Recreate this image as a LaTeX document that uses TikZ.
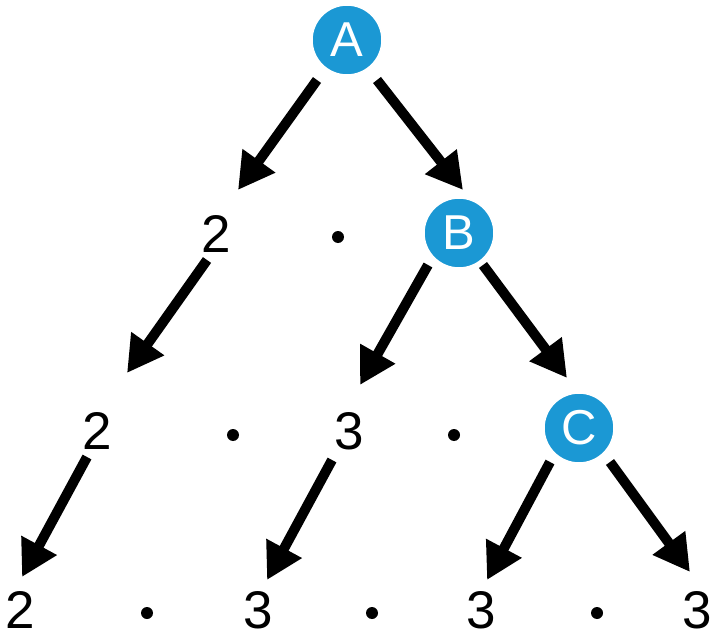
\documentclass[tikz,border=0pt]{standalone}
\usepackage{fontspec}
\setmainfont{Liberation Sans}
\usetikzlibrary{arrows.meta,calc}

\definecolor{azul}{RGB}{27,152,212}

\tikzset{
  letra/.style={circle,fill=azul,draw=white,line width=1.5pt,minimum size=70pt,inner sep=0pt,
    text=white,font=\fontsize{49}{49}\selectfont},
  cifra/.style={inner sep=0pt,font=\fontsize{53}{53}\selectfont},
  punto/.style={circle,fill=black,minimum size=12pt,inner sep=0pt},
  flecha/.style={line width=10pt,-{Triangle[length=36pt,width=38pt]}}
}

\begin{document}
\begin{tikzpicture}[x=1pt,y=-1pt]
        % Marco del dibujo.
        \useasboundingbox (0,0) rectangle (716,642);

        % Letras en los círculos azules.
        \node[letra] (A) at (347,40) {A};
        \node[letra] (B) at (459,233) {B};
        \node[letra] (C) at (579,428) {C};

        % Primera fila: 2 . B
        \node[cifra] (f1a) at (216,234) {2};
        \node[punto] (p1a) at (338,237) {};

        % Segunda fila: 2 . 3 . C
        \node[cifra] (f2a) at (97,431) {2};
        \node[punto] (p2a) at (233,435) {};
        \node[cifra] (f2b) at (349,431) {3};
        \node[punto] (p2b) at (454,435) {};

        % Tercera fila: 2 . 3 . 3 . 3
        \node[cifra] (f3a) at (20,610) {2};
        \node[punto] (p3a) at (147,613) {};
        \node[cifra] (f3b) at (258,610) {3};
        \node[punto] (p3b) at (372,613) {};
        \node[cifra] (f3c) at (481,610) {3};
        \node[punto] (p3c) at (597,613) {};
        \node[cifra] (f3d) at (697,610) {3};

        % Flechas de la descomposición.
        \draw[flecha] ($(A)+(-30,40)$) -- ($(f1a)+(22,-44)$);
        \draw[flecha] ($(A)+(30,40)$) -- ($(B)+(4,-43)$);
        \draw[flecha] ($(f1a)+(-9,26)$) -- ($(f2a)+(30,-58)$);
        \draw[flecha] ($(B)+(-31,32)$) -- ($(f2b)+(11,-46)$);
        \draw[flecha] ($(B)+(24,32)$) -- ($(C)+(-12,-50)$);
        \draw[flecha] ($(f2a)+(-10,26)$) -- ($(f3a)+(2,-33)$);
        \draw[flecha] ($(f2b)+(-17,29)$) -- ($(f3b)+(9,-30)$);
        \draw[flecha] ($(C)+(-29,34)$) -- ($(f3c)+(6,-30)$);
        \draw[flecha] ($(C)+(31,34)$) -- ($(f3d)+(-7,-38)$);
    \end{tikzpicture}
\end{document}
